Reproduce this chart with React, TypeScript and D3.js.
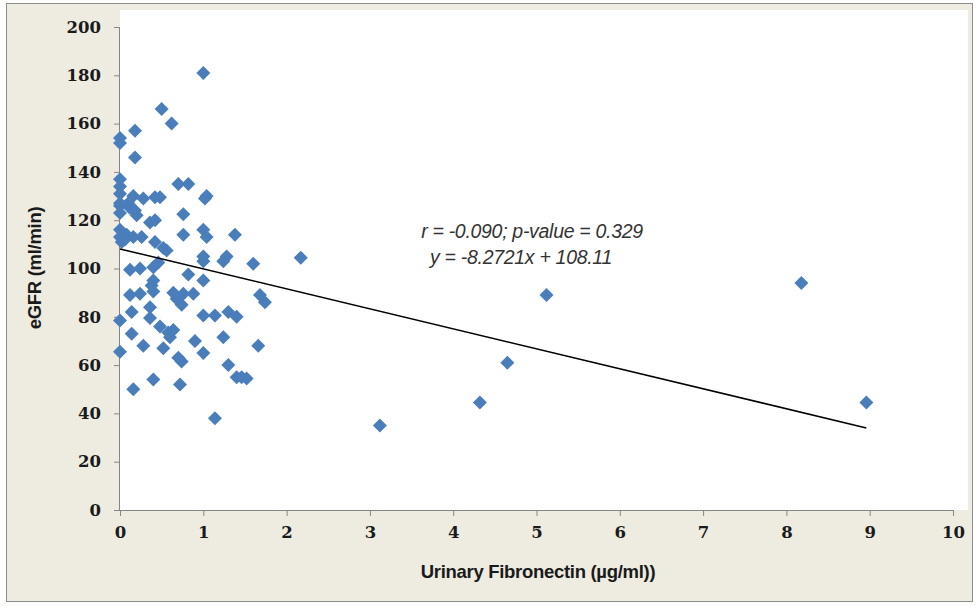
import { useEffect, useRef } from 'react';
import * as d3 from 'd3';

// urinary fibronectin (µg/ml)
const fibronectin = [
  1.0, 0.5, 0.62, 0.18, 0.0, 0.0, 0.18, 0.0, 0.0, 0.7, 0.82, 1.04, 1.02, 0.16, 0.28, 0.42, 0.48,
  0.0, 0.12, 0.0, 0.2, 0.76, 0.42, 0.36, 0.0, 0.0, 0.16, 0.26, 0.76, 1.0, 1.04, 1.38, 0.42,
  0.52, 0.56, 1.0, 1.0, 1.28, 1.24, 1.6, 2.17, 0.12, 0.24, 0.4, 0.46, 0.82, 1.0, 0.4, 0.38,
  0.12, 0.24, 0.4, 0.64, 0.76, 0.88, 0.74, 0.68, 1.68, 1.74, 5.12, 8.18, 0.0, 0.14, 0.36, 0.36,
  0.48, 0.58, 0.64, 1.0, 1.14, 1.3, 1.4, 0.14, 0.28, 0.52, 0.6, 0.9, 1.24, 1.66, 0.0, 1.0,
  0.7, 0.74, 1.3, 1.4, 1.46, 1.52, 0.4, 0.72, 0.16, 1.14, 3.12, 4.32, 4.65, 8.96,
  0.0, 0.0, 0.02, 0.06, 0.08, 0.1, 0.18
];
// eGFR (ml/min)
const egfr = [
  181, 166, 160, 157, 154, 152, 146, 137, 134, 135, 135, 130, 129, 130, 129, 129.5, 129.5,
  127, 125, 123, 122, 122.5, 120, 119, 116, 113, 113, 113, 114, 116, 113, 114, 111,
  108.5, 107.5, 105, 103, 105, 103, 102, 104.5, 99.5, 100, 100.5, 102.5, 97.5, 95, 95, 93,
  89, 89.5, 90.5, 90, 89.5, 89.5, 85, 87.5, 89, 86, 89, 94, 78.5, 82, 84, 79.5,
  76, 73.5, 74.5, 80.5, 80.5, 82, 80, 73, 68, 67, 71.5, 70, 71.5, 68, 65.5, 65,
  63, 61.5, 60, 55, 55, 54.5, 54, 52, 50, 38, 35, 44.5, 61, 44.5,
  131, 126, 111, 112, 114, 127, 124
];

const xTicks = [0, 1, 2, 3, 4, 5, 6, 7, 8, 9, 10];
const yTicks = [0, 20, 40, 60, 80, 100, 120, 140, 160, 180, 200];

const slope = -8.2721;
const intercept = 108.11;
const statsLabel = 'r = -0.090; p-value = 0.329';
const fitLabel = 'y = -8.2721x + 108.11';

export default function App() {
  const ref = useRef<SVGSVGElement>(null);

  useEffect(() => {
    if (!ref.current) return;
    const svg = d3.select(ref.current);
    svg.selectAll('*').remove();

    const left = 120, right = 953, top = 27, bottom = 510;

    const x = d3.scaleLinear().domain([0, 10]).range([left, right]);
    const y = d3.scaleLinear().domain([0, 200]).range([bottom, top]);

    // chart area
    svg.append('rect')
      .attr('x', 6.5).attr('y', 3.5).attr('width', 966).attr('height', 598)
      .attr('fill', '#eeece1').attr('stroke', '#8c8c8c');

    // plot area
    svg.append('rect')
      .attr('x', left).attr('y', 10).attr('width', 848).attr('height', bottom - 10)
      .attr('fill', '#ffffff');

    const axisColor = '#868686';

    const yAxis = svg.append('g')
      .attr('transform', `translate(${left},0)`)
      .call(d3.axisLeft(y).tickValues(yTicks).tickSize(6).tickPadding(13));
    const xAxis = svg.append('g')
      .attr('transform', `translate(0,${bottom})`)
      .call(d3.axisBottom(x).tickValues(xTicks).tickSize(6).tickPadding(10));

    [xAxis, yAxis].forEach(g => {
      g.selectAll('path, line').attr('stroke', axisColor);
      g.selectAll('text')
        .attr('fill', '#1a1a1a')
        .style('font-family', '"DejaVu Serif", serif')
        .style('font-weight', 'bold')
        .style('font-size', '16.5px');
    });
    xAxis.select('.domain').attr('d', `M${left},0.5H${right}`);
    yAxis.select('.domain').attr('d', `M-0.5,${top}V${bottom}`);

    // axis titles
    svg.append('text')
      .attr('x', 538).attr('y', 578)
      .attr('text-anchor', 'middle')
      .attr('fill', '#1a1a1a')
      .style('font-family', '"Liberation Sans", sans-serif')
      .style('font-weight', 'bold')
      .style('font-size', '18.5px')
      .style('letter-spacing', '-0.3px')
      .text('Urinary Fibronectin (µg/ml))');

    svg.append('text')
      .attr('transform', 'translate(41,268) rotate(-90)')
      .attr('text-anchor', 'middle')
      .attr('fill', '#1a1a1a')
      .style('font-family', '"Liberation Sans", sans-serif')
      .style('font-weight', 'bold')
      .style('font-size', '18.5px')
      .style('letter-spacing', '-0.3px')
      .text('eGFR (ml/min)');

    // points
    const pts = fibronectin.map((v, i) => ({ fx: v, gfr: egfr[i] }));
    const diamond = d3.symbol().type(d3.symbolSquare).size(98);
    svg.append('g')
      .selectAll('path')
      .data(pts)
      .enter()
      .append('path')
      .attr('d', diamond)
      .attr('transform', d => `translate(${x(d.fx)},${y(d.gfr)}) rotate(45)`)
      .attr('fill', '#4a7ebb');

    // trend line
    const xMax = d3.max(fibronectin) as number;
    const fit = d3.line<number>()
      .x(d => x(d))
      .y(d => y(slope * d + intercept));
    svg.append('path')
      .datum([0, xMax])
      .attr('d', fit)
      .attr('fill', 'none')
      .attr('stroke', '#000000')
      .attr('stroke-width', 1.5);

    // annotation
    const note = svg.append('text')
      .attr('text-anchor', 'middle')
      .attr('fill', '#333333')
      .style('font-family', '"Liberation Sans", sans-serif')
      .style('font-style', 'italic')
      .style('font-size', '19.5px')
      .style('letter-spacing', '-0.3px');
    note.append('tspan').attr('x', 532).attr('y', 238).text(statsLabel);
    note.append('tspan').attr('x', 521).attr('y', 264).text(fitLabel);
  }, []);

  return (
    <svg
      ref={ref}
      width={978}
      height={609}
      style={{ position: 'absolute', left: 0, top: 0, background: '#ffffff' }}
    />
  );
}
